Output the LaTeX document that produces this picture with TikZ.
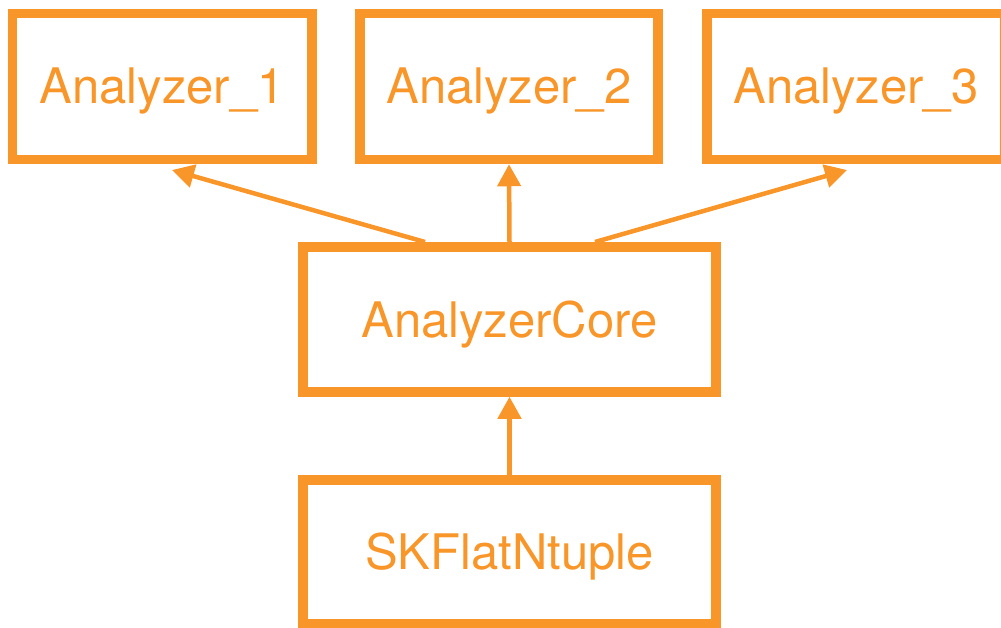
\documentclass[tikz,border=0pt]{standalone}
\usepackage{fontspec}
\setmainfont{TeX Gyre Heros}
\usetikzlibrary{arrows.meta}
\definecolor{korange}{RGB}{248,150,42}
\tikzset{
  box/.style={draw=korange, line width=9.5pt, text=korange, inner sep=0pt,
    font=\fontsize{49}{59}\selectfont, text height=35pt, text depth=0pt},
  conn/.style={draw=korange, line width=4.5pt, -{Triangle[length=22pt,width=23pt]}}
}
\begin{document}
\begin{tikzpicture}[x=1pt,y=-1pt]
\useasboundingbox (0,0) rectangle (1001,628);
\clip (0,0) rectangle (1001,628);
\node[box, minimum width=299.5pt, minimum height=146pt] (a1) at (162.25,86.5) {Analyzer\_1};
\node[box, minimum width=298pt, minimum height=146pt] (a2) at (509,86.5) {Analyzer\_2};
\node[box, minimum width=298pt, minimum height=146pt] (a3) at (856,86.5) {Analyzer\_3};
\node[box, minimum width=413pt, minimum height=145pt] (core) at (509.5,319.5) {AnalyzerCore};
\node[box, minimum width=413pt, minimum height=144pt] (sk) at (509.5,552) {SKFlatNtuple};
\coordinate (c1) at (425,242);
\coordinate (c3) at (595,242);
\coordinate (t1) at (172,170);
\coordinate (t3) at (847,170);
\draw[conn] (c1) -- (t1);
\draw[conn] (core.north) -- (a2.south);
\draw[conn] (c3) -- (t3);
\draw[conn] (sk.north) -- (core.south);
\end{tikzpicture}
\end{document}
